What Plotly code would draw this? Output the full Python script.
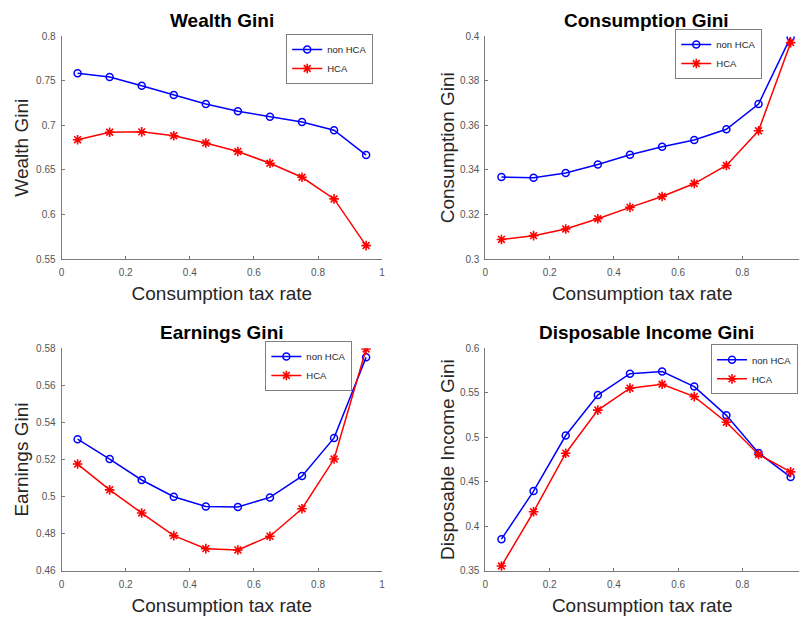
import plotly.graph_objects as go

tax_rate = [0.05, 0.15, 0.25, 0.35, 0.45, 0.55, 0.65, 0.75, 0.85, 0.95]

wealth_non_hca = [0.7585, 0.7545, 0.7446, 0.7343, 0.7240, 0.7159, 0.7097, 0.7038, 0.6946, 0.6667]
wealth_hca = [0.6840, 0.6924, 0.6928, 0.6884, 0.6803, 0.6708, 0.6576, 0.6418, 0.6175, 0.5651]

cons_non_hca = [0.3368, 0.3365, 0.3386, 0.3425, 0.3468, 0.3504, 0.3535, 0.3583, 0.3696, 0.3997]
cons_hca = [0.3088, 0.3105, 0.3135, 0.3181, 0.3232, 0.3281, 0.3339, 0.3420, 0.3576, 0.3972]

earn_non_hca = [0.5310, 0.5203, 0.5090, 0.5000, 0.4947, 0.4945, 0.4996, 0.5111, 0.5317, 0.5751]
earn_hca = [0.5176, 0.5037, 0.4912, 0.4790, 0.4720, 0.4713, 0.4787, 0.4935, 0.5203, 0.5796]

disp_non_hca = [0.3856, 0.4396, 0.5020, 0.5475, 0.5714, 0.5739, 0.5570, 0.5247, 0.4825, 0.4554]
disp_hca = [0.3555, 0.4164, 0.4822, 0.5306, 0.5552, 0.5596, 0.5457, 0.5170, 0.4807, 0.4612]

titles = ["Wealth Gini", "Consumption Gini", "Earnings Gini", "Disposable Income Gini"]
y_titles = ["Wealth Gini", "Consumption Gini", "Earnings Gini", "Disposable Income Gini"]
x_title = "Consumption tax rate"
series_names = ["non HCA", "HCA"]

x_ticks = [0, 0.2, 0.4, 0.6, 0.8, 1]
x_ticklabels = ["0", "0.2", "0.4", "0.6", "0.8", "1"]
y_ticks = [
    [0.55, 0.6, 0.65, 0.7, 0.75, 0.8],
    [0.3, 0.32, 0.34, 0.36, 0.38, 0.4],
    [0.46, 0.48, 0.5, 0.52, 0.54, 0.56, 0.58],
    [0.35, 0.4, 0.45, 0.5, 0.55, 0.6],
]
y_ticklabels = [
    ["0.55", "0.6", "0.65", "0.7", "0.75", "0.8"],
    ["0.3", "0.32", "0.34", "0.36", "0.38", "0.4"],
    ["0.46", "0.48", "0.5", "0.52", "0.54", "0.56", "0.58"],
    ["0.35", "0.4", "0.45", "0.5", "0.55", "0.6"],
]
y_ranges = [[0.55, 0.8], [0.3, 0.4], [0.46, 0.58], [0.35, 0.6]]
x_ranges = [[0, 1], [0, 0.976], [0, 1], [0, 0.976]]

data_pairs = [
    (wealth_non_hca, wealth_hca),
    (cons_non_hca, cons_hca),
    (earn_non_hca, earn_hca),
    (disp_non_hca, disp_hca),
]

W, H = 802, 623
# plot areas in pixels: (left, right, top, bottom)
areas = [
    (59, 382, 31, 258),
    (486, 802, 31, 258),
    (59, 382, 349, 576),
    (486, 802, 349, 576),
]
title_centers = [(220.5, 15), (648, 15), (220.5, 333), (648, 333)]
# legend: (right edge, vertical centre)
legend_pos = [(373, 54), (765, 49), (352, 367), (801, 370.5)]
ytitle_standoff = [2, 0, 2, 0]

FONT = "Liberation Sans, Arial, Helvetica, sans-serif"

fig = go.Figure()
layout = dict(
    width=W, height=H,
    margin=dict(l=0, r=0, t=0, b=0),
    paper_bgcolor="white", plot_bgcolor="white",
    font=dict(family=FONT, color="#262626"),
    annotations=[],
)

for i in range(4):
    k = "" if i == 0 else str(i + 1)
    non, hca = data_pairs[i]
    lg = "legend" + k
    fig.add_trace(go.Scatter(
        x=tax_rate, y=non, name=series_names[0], mode="lines+markers",
        xaxis="x" + k, yaxis="y" + k, legend=lg,
        line=dict(color="#0000ff", width=1.5),
        marker=dict(symbol="circle-open", size=7, color="#0000ff", line=dict(width=1.5, color="#0000ff")),
    ))
    fig.add_trace(go.Scatter(
        x=tax_rate, y=hca, name=series_names[1], mode="lines+markers",
        xaxis="x" + k, yaxis="y" + k, legend=lg,
        line=dict(color="#ff0000", width=1.5),
        marker=dict(symbol="asterisk-open", size=8, color="#ff0000", line=dict(width=1.6, color="#ff0000")),
    ))
    l, r, t, b = areas[i]
    axcommon = dict(
        showgrid=False, zeroline=False, showline=True, linecolor="#7a7a7a", linewidth=1,
        ticks="inside", ticklen=3, tickcolor="#7a7a7a", tickwidth=1,
        tickfont=dict(size=10, color="#555555", family=FONT),
        mirror=False,
    )
    layout["xaxis" + k] = dict(
        axcommon, domain=[l / W, r / W], anchor="y" + k, range=x_ranges[i],
        tickvals=x_ticks, ticktext=x_ticklabels, ticklabelstandoff=4,
        title=dict(text=x_title, font=dict(size=19, color="#262626"), standoff=9),
    )
    layout["yaxis" + k] = dict(
        axcommon, domain=[1 - b / H, 1 - t / H], anchor="x" + k, range=y_ranges[i],
        tickvals=y_ticks[i], ticktext=y_ticklabels[i], ticklabelstandoff=3,
        title=dict(text=y_titles[i], font=dict(size=19, color="#262626"), standoff=ytitle_standoff[i]),
    )
    lx, ly = legend_pos[i]
    layout[lg] = dict(
        x=lx / W, y=1 - ly / H, xanchor="right", yanchor="middle",
        xref="paper", yref="paper",
        bgcolor="white", bordercolor="#7f7f7f", borderwidth=1,
        font=dict(size=9.5, color="#262626", family=FONT),
        itemwidth=30, tracegroupgap=0,
    )
    cx, cy = title_centers[i]
    layout["annotations"].append(dict(
        text="<b>" + titles[i] + "</b>", x=cx / W, y=1 - cy / H, xref="paper", yref="paper",
        xanchor="center", yanchor="middle", showarrow=False,
        font=dict(size=19, color="#000000", family=FONT),
    ))

fig.update_layout(**layout)
fig.write_html("out.html")
